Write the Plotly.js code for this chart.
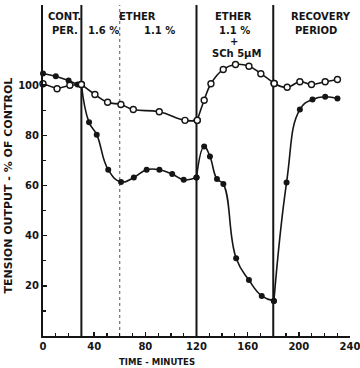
<!DOCTYPE html>
<html>
<head>
<meta charset="utf-8">
<script src="https://cdn.plot.ly/plotly-3.0.1.min.js"></script>
<style>
html,body{margin:0;padding:0;background:#fff;}
#chart{width:360px;height:368px;}
</style>
</head>
<body>
<div id="chart"></div>
<script>
// ---- Data (time in minutes, tension in % of control) ----
// Filled circles
const filledControlT = [0, 10, 20, 27, 30];
const filledControlY = [104.7, 103.6, 101.9, 100.3, 100.3];
const filledEther1T = [30, 36, 42, 51, 61, 71, 81, 91, 101, 110, 120];
const filledEther1Y = [100.3, 85.2, 80.3, 66.3, 61.4, 63.2, 66.3, 66.3, 64.6, 62.3, 63.2];
const filledEther2T = [120, 126, 130.5, 136, 141, 151, 161, 171, 180.5];
const filledEther2Y = [63.2, 75.6, 71.6, 62.6, 60.6, 31, 22.3, 16, 14];
const filledRecovT = [180.5, 190.4, 200.8, 210.7, 220.6, 230.2];
const filledRecovY = [14, 61.2, 90.3, 94.3, 95.4, 94.7];
// Open circles
const openControlT = [0, 11, 21, 30];
const openControlY = [100.6, 98.6, 100, 100.3];
const openEther1T = [30, 40.6, 50.5, 60.9, 70.6, 90.9, 111, 120.6];
const openEther1Y = [100.3, 96.3, 93.2, 92.3, 90.3, 89.4, 86, 86];
const openEther2T = [120.6, 126, 131.3, 140.9, 150.5, 161, 170.3, 180.7];
const openEther2Y = [86, 94, 100.6, 106.3, 108.3, 107.6, 104.6, 100.7];
const openRecovT = [180.7, 190.9, 200.8, 209.9, 220.6, 230.2];
const openRecovY = [100.7, 99.2, 101.4, 100.3, 101.4, 102.3];

// Period boundaries and labels
const periodLines = [30, 120, 180];
const concentrationChange = 60;
const xTickVals = [0, 40, 80, 120, 160, 200, 240];
const yTickVals = [20, 40, 60, 80, 100];

const INK = '#151515';
const FONT = 'DejaVu Sans, Liberation Sans, sans-serif';

function seg(t, y, open) {
  return {
    x: t, y: y, type: 'scatter', mode: 'lines+markers',
    line: {color: INK, width: 1.6, shape: 'spline', smoothing: 1.3},
    marker: open
      ? {symbol: 'circle', size: 6, color: '#fff', line: {color: INK, width: 1.4}}
      : {symbol: 'circle', size: 6, color: INK, line: {color: INK, width: 0}},
    showlegend: false, hoverinfo: 'skip', cliponaxis: false
  };
}

const traces = [
  seg(filledControlT, filledControlY, false),
  seg(filledEther1T, filledEther1Y, false),
  seg(filledEther2T, filledEther2Y, false),
  seg(filledRecovT, filledRecovY, false),
  seg(openControlT, openControlY, true),
  seg(openEther1T, openEther1Y, true),
  seg(openEther2T, openEther2Y, true),
  seg(openRecovT, openRecovY, true)
];
traces[0].line.shape = 'linear';
traces[4].line.shape = 'linear';

const shapes = periodLines.map(v => ({
  type: 'line', xref: 'x', yref: 'paper', x0: v, x1: v, y0: 0, y1: 1,
  line: {color: INK, width: 2}, layer: 'below'
}));
shapes.push({
  type: 'line', xref: 'x', yref: 'paper', x0: concentrationChange, x1: concentrationChange, y0: 0, y1: 1,
  line: {color: '#555', width: 1, dash: 'dot'}, layer: 'below'
});

function lab(text, x, ypx, size) {
  return {text: text, x: x, xref: 'x', y: 1 - (ypx - 5) / 330.7, yref: 'paper',
    showarrow: false, xanchor: 'center', yanchor: 'middle',
    font: {family: FONT, size: size || 10, color: INK, weight: 'bold'}};
}

const annotations = [
  lab('CONT.', 16.5, 16), lab('PER.', 17, 30),
  lab('ETHER', 73.5, 16), lab('1.6 %', 47, 30), lab('1.1 %', 91, 30),
  lab('ETHER', 149, 16), lab('1.1 %', 150, 30), lab('+', 149.5, 41), lab('SCh 5μM', 151, 53),
  lab('RECOVERY', 217, 16), lab('PERIOD', 213.5, 30),
  {text: 'TENSION OUTPUT - % OF CONTROL', xref: 'paper', yref: 'paper', x: 0, xshift: -35, y: 0.455,
    textangle: -90, showarrow: false, xanchor: 'center', yanchor: 'middle',
    font: {family: FONT, size: 11, color: INK, weight: 'bold'}},
  {text: 'TIME - MINUTES', xref: 'x', yref: 'paper', x: 89, y: 0, yshift: -26, showarrow: false,
    xanchor: 'center', yanchor: 'middle',
    font: {family: FONT, size: 8.5, color: INK, weight: 'bold'}}
];

const layout = {
  width: 360, height: 368,
  margin: {l: 43, r: 10, t: 5, b: 32},
  paper_bgcolor: '#fff', plot_bgcolor: '#fff',
  showlegend: false,
  xaxis: {
    range: [0, 240], showgrid: false, zeroline: false,
    showline: true, linecolor: INK, linewidth: 2,
    tickmode: 'array', tickvals: xTickVals, ticklabeloverflow: 'allow',
    ticks: 'inside', ticklen: 4, tickwidth: 1.5, tickcolor: INK,
    minor: {dtick: 10, tick0: 0, ticks: 'inside', ticklen: 3, tickwidth: 1.2, tickcolor: INK, showgrid: false},
    tickfont: {family: FONT, size: 10, color: INK, weight: 'bold'}
  },
  yaxis: {
    range: [0, 132], showgrid: false, zeroline: false,
    showline: true, linecolor: INK, linewidth: 2,
    tickmode: 'array', tickvals: yTickVals,
    ticks: 'inside', ticklen: 4, tickwidth: 1.5, tickcolor: INK,
    minor: {tickmode: 'array', tickvals: [10, 30, 50, 70, 90], ticks: 'inside', ticklen: 3, tickwidth: 1.2, tickcolor: INK, showgrid: false},
    tickfont: {family: FONT, size: 10, color: INK, weight: 'bold'}
  },
  shapes: shapes,
  annotations: annotations
};

Plotly.newPlot('chart', traces, layout, {staticPlot: true, displayModeBar: false});
</script>
</body>
</html>
